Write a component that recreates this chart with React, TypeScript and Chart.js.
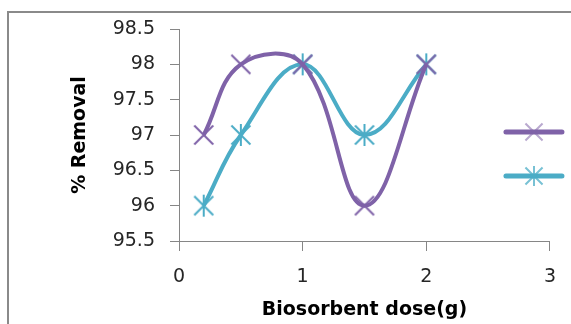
import React, { useEffect, useRef } from 'react';
import { Chart, registerables } from 'chart.js';

Chart.register(...registerables);

// ---- data ----
const doseG = [0.2, 0.5, 1, 1.5, 2];
const removalA = [97, 98, 98, 96, 98];
const removalB = [96, 97, 98, 97, 98];
const xTickValues = [0, 1, 2, 3];
const yTickValues = [95.5, 96, 96.5, 97, 97.5, 98, 98.5];
const xTitle = 'Biosorbent dose(g)';
const yTitle = '% Removal';

const PURPLE = '#7F62A8';
const TEAL = '#4BACC6';
const AXIS = '#868686';
const TEXT = '#262626';
const FONT = '"DejaVu Sans", "Open Sans", sans-serif';

function makeMarker(kind: 'x' | 'star', color: string, r = 10): HTMLCanvasElement {
  const size = r * 2 + 4;
  const c = document.createElement('canvas');
  c.width = size;
  c.height = size;
  const ctx = c.getContext('2d')!;
  const m = size / 2;
  ctx.strokeStyle = color;
  ctx.lineWidth = 2;
  ctx.lineCap = 'butt';
  ctx.beginPath();
  const d = r * 0.95;
  ctx.moveTo(m - d, m - d);
  ctx.lineTo(m + d, m + d);
  ctx.moveTo(m + d, m - d);
  ctx.lineTo(m - d, m + d);
  if (kind === 'star') {
    ctx.moveTo(m, m - r - 1);
    ctx.lineTo(m, m + r + 1);
  }
  ctx.stroke();
  return c;
}

export default function App() {
  const ref = useRef<HTMLCanvasElement | null>(null);

  useEffect(() => {
    const canvas = ref.current;
    if (!canvas) return;
    const markA = makeMarker('x', PURPLE);
    const markB = makeMarker('star', TEAL);
    const legendMarkA = makeMarker('x', 'rgba(127,98,168,0.55)', 9);
    const legendMarkB = makeMarker('star', 'rgba(75,172,198,0.75)', 9);

    const framePlugin = {
      id: 'frame',
      beforeDraw(chart: any) {
        const ctx = chart.ctx;
        ctx.save();
        ctx.fillStyle = '#ffffff';
        ctx.fillRect(0, 0, chart.width, chart.height);
        ctx.strokeStyle = '#8a8a8a';
        ctx.lineWidth = 2;
        ctx.beginPath();
        ctx.moveTo(8, chart.height + 2);
        ctx.lineTo(8, 12);
        ctx.lineTo(chart.width + 2, 12);
        ctx.stroke();
        ctx.restore();
      },
    };

    const legendPlugin = {
      id: 'sideLegend',
      afterDraw(chart: any) {
        const ctx = chart.ctx;
        const area = chart.chartArea;
        const x0 = area.right - 44;
        const x1 = area.right + 12;
        const items = [
          { color: PURPLE, mark: legendMarkA, y: 132 },
          { color: TEAL, mark: legendMarkB, y: 176 },
        ];
        ctx.save();
        items.forEach((it) => {
          ctx.strokeStyle = it.color;
          ctx.lineWidth = 5;
          ctx.lineCap = 'round';
          ctx.beginPath();
          ctx.moveTo(x0, it.y);
          ctx.lineTo(x1, it.y);
          ctx.stroke();
          const cx = (x0 + x1) / 2;
          ctx.drawImage(it.mark, cx - it.mark.width / 2, it.y - it.mark.height / 2);
        });
        ctx.restore();
      },
    };

    const chart = new Chart(canvas, {
      type: 'scatter',
      data: {
        datasets: [
          {
            label: 'Series A',
            data: doseG.map((x, i) => ({ x, y: removalA[i] })),
            showLine: true,
            borderColor: PURPLE,
            borderWidth: 4,
            tension: 0.4,
            pointStyle: markA as any,
            pointRadius: 10,
            backgroundColor: PURPLE,
          },
          {
            label: 'Series B',
            data: doseG.map((x, i) => ({ x, y: removalB[i] })),
            showLine: true,
            borderColor: TEAL,
            borderWidth: 4,
            tension: 0.4,
            pointStyle: markB as any,
            pointRadius: 10,
            backgroundColor: TEAL,
          },
        ],
      },
      options: {
        responsive: false,
        animation: false,
        devicePixelRatio: 1,
        layout: { padding: { top: 29, right: 21, left: 0, bottom: 0 } },
        plugins: {
          legend: { display: false },
          tooltip: { enabled: false },
        },
        scales: {
          x: {
            type: 'linear',
            min: 0,
            max: 3,
            afterBuildTicks: (s: any) => {
              s.ticks = xTickValues.map((v) => ({ value: v }));
            },
            afterFit: (s: any) => {
              s.height = 83;
            },
            grid: {
              drawOnChartArea: false,
              drawTicks: true,
              tickLength: 10,
              color: AXIS,
            },
            border: { color: AXIS, width: 1 },
            ticks: {
              padding: 15,
              color: TEXT,
              font: { family: FONT, size: 19 },
              callback: (v: any) => `${v}`,
            },
            title: {
              display: true,
              text: xTitle,
              color: '#000',
              font: { family: FONT, size: 19, weight: 'bold' },
              padding: { top: 0, bottom: 3 },
            },
          },
          y: {
            type: 'linear',
            min: 95.5,
            max: 98.5,
            afterBuildTicks: (s: any) => {
              s.ticks = yTickValues.map((v) => ({ value: v }));
            },
            afterFit: (s: any) => {
              s.width = 179;
            },
            grid: {
              drawOnChartArea: false,
              drawTicks: true,
              tickLength: 9,
              color: AXIS,
            },
            border: { color: AXIS, width: 1 },
            ticks: {
              padding: 15,
              color: TEXT,
              font: { family: FONT, size: 19 },
              callback: (v: any) => `${v}`,
            },
            title: {
              display: true,
              text: yTitle,
              color: '#000',
              font: { family: FONT, size: 19, weight: 'bold' },
              padding: { top: 69, bottom: 0 },
            },
          },
        },
      },
      plugins: [framePlugin, legendPlugin],
    });

    return () => chart.destroy();
  }, []);

  return (
    <div style={{ position: 'absolute', left: 0, top: 0, width: 571, height: 324, background: '#fff' }}>
      <canvas ref={ref} width={571} height={324} style={{ display: 'block' }} />
    </div>
  );
}
